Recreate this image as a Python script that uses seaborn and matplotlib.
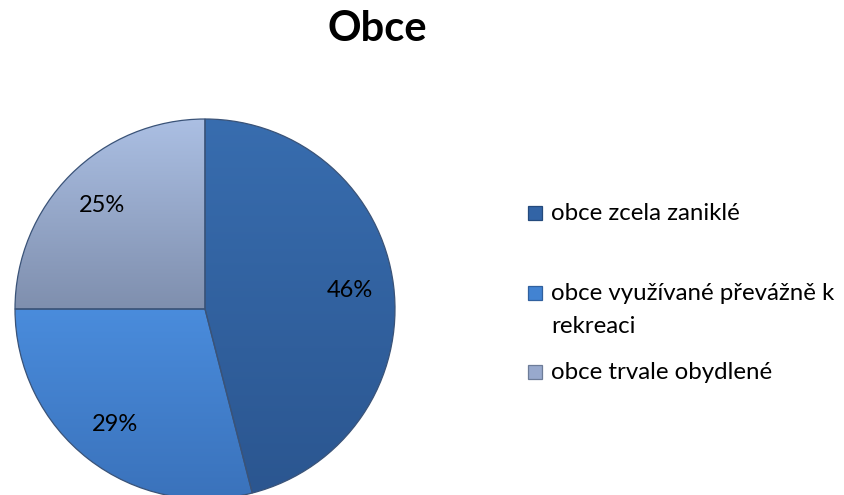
import numpy as np
import matplotlib
matplotlib.use("Agg")
import matplotlib.pyplot as plt
import seaborn as sns
from matplotlib.patches import Rectangle
from matplotlib.colors import to_rgb

sns.set_theme(style="white")
plt.rcParams['font.family'] = ['Lato', 'DejaVu Sans']

title = "Obce"
categories = ["obce zcela zaniklé", "obce využívané převážně k\nrekreaci", "obce trvale obydlené"]
values = [46, 29, 25]
colors = ["#3264a6", "#4283d2", "#98a9cd"]
top_colors = ["#386daf", "#4a8cdc", "#abbfe3"]
bottom_colors = ["#2b5690", "#3a72bb", "#7f8fae"]
edge_colors = ["#244a7c", "#30609e", "#6d7c98"]

fig = plt.figure(figsize=(8.45, 4.95), dpi=100)
fig.patch.set_facecolor("white")

# pie axes: centre ~ (205, 309) px, radius ~190 px
cx, cy, r = 205 / 845, 1 - 309 / 495, 190
ax = fig.add_axes([cx - r / 845, cy - r / 495, 2 * r / 845, 2 * r / 495])
wedges, texts, autotexts = ax.pie(
    values, colors=colors, startangle=90, counterclock=False,
    autopct=lambda p: f"{p:.0f}%", pctdistance=0.77,
    wedgeprops=dict(linewidth=0.9, edgecolor="#3a5378"),
    textprops=dict(fontsize=17, color="black", zorder=5),
)
ax.set_xlim(-1, 1)
ax.set_ylim(-1, 1)
ax.set_aspect("equal")
ax.axis("off")

# vertical gradient fill inside each wedge
for w, tc, bc in zip(wedges, top_colors, bottom_colors):
    verts = w.get_path().vertices
    y0, y1 = verts[:, 1].min(), verts[:, 1].max()
    t = np.linspace(0, 1, 256)[:, None]
    grad = (1 - t) * np.array(to_rgb(tc)) + t * np.array(to_rgb(bc))
    im = ax.imshow(grad[:, None, :].repeat(2, axis=1), extent=(-1, 1, y0, y1),
                   origin="upper", aspect="auto", zorder=w.get_zorder() + 0.1)
    im.set_clip_path(w)
    w.set_facecolor("none")
    w.set_zorder(w.get_zorder() + 0.2)
ax.set_xlim(-1, 1)
ax.set_ylim(-1, 1)

fig.text(377 / 845, 1 - 29 / 495, title, ha="center", va="center",
         fontsize=30, fontweight="bold", color="black")

# legend (marker aligned with first text line as in the reference)
leg_base = [220, 300, 379]
line_h = 33
for cat, col, ec, y in zip(categories, colors, edge_colors, leg_base):
    fig.patches.append(Rectangle((528 / 845, 1 - y / 495), 14 / 845, 14 / 495,
                                 transform=fig.transFigure, facecolor=col,
                                 edgecolor=ec, linewidth=0.9))
    lines = cat.split("\n")
    for i, line in enumerate(lines):
        fig.text(551 / 845, 1 - (y + i * line_h) / 495, line, ha="left", va="baseline",
                 fontsize=17.3, color="black")

fig.savefig("out.png", dpi=100, facecolor="white")
